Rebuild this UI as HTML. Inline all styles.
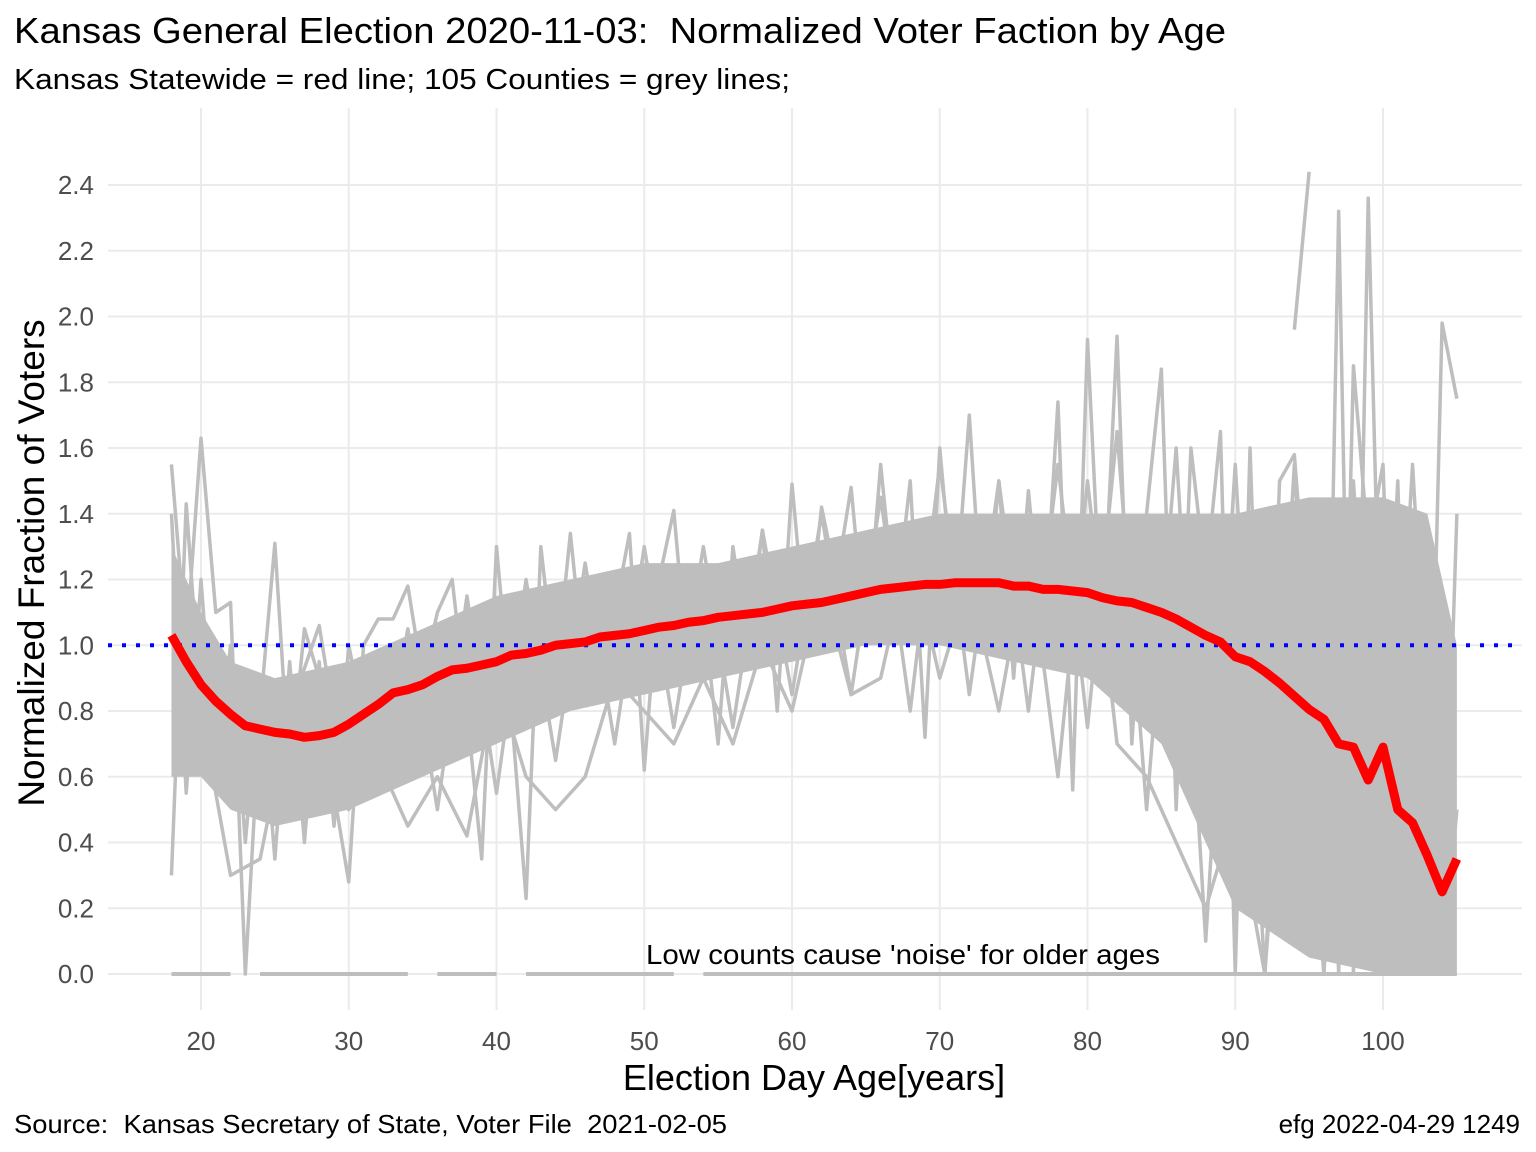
<!DOCTYPE html>
<html><head><meta charset="utf-8"><style>
body{margin:0;background:#fff;}
svg{display:block;font-family:"Liberation Sans",Arial,sans-serif;}
text{white-space:pre;}
</style></head><body>
<svg id="chart" width="1536" height="1152" viewBox="0 0 1536 1152">
<text x="14" y="43" font-size="36" textLength="1212" lengthAdjust="spacingAndGlyphs" fill="#000">Kansas General Election 2020-11-03:  Normalized Voter Faction by Age</text>
<text x="14" y="89" font-size="29" textLength="776" lengthAdjust="spacingAndGlyphs" fill="#000">Kansas Statewide = red line; 105 Counties = grey lines;</text>
<g id="grid"></g>
<g id="band"></g>
<g id="marks"></g>
<g id="axes"></g>
<text x="646" y="964" font-size="28" textLength="514" lengthAdjust="spacingAndGlyphs" fill="#000">Low counts cause 'noise' for older ages</text>
<text x="814" y="1090" font-size="36" text-anchor="middle" fill="#000">Election Day Age[years]</text>
<text transform="translate(44,563) rotate(-90)" font-size="37" text-anchor="middle" fill="#000">Normalized Fraction of Voters</text>
<text x="14" y="1133" font-size="26" textLength="713" lengthAdjust="spacingAndGlyphs" fill="#000">Source:  Kansas Secretary of State, Voter File  2021-02-05</text>
<text x="1520" y="1133" font-size="26" text-anchor="end" fill="#000">efg 2022-04-29 1249</text>
</svg>
<script>
const xTicks=[20,30,40,50,60,70,80,90,100];
const yTicks=[0.0,0.2,0.4,0.6,0.8,1.0,1.2,1.4,1.6,1.8,2.0,2.2,2.4];
const ages=[18,19,20,21,22,23,24,25,26,27,28,29,30,31,32,33,34,35,36,37,38,39,40,41,42,43,44,45,46,47,48,49,50,51,52,53,54,55,56,57,58,59,60,61,62,63,64,65,66,67,68,69,70,71,72,73,74,75,76,77,78,79,80,81,82,83,84,85,86,87,88,89,90,91,92,93,94,95,96,97,98,99,100,101,102,103,104,105];
const statewide=[1.03,0.95,0.88,0.83,0.79,0.755,0.745,0.735,0.73,0.72,0.725,0.735,0.76,0.79,0.82,0.855,0.865,0.88,0.905,0.925,0.93,0.94,0.95,0.97,0.975,0.985,1.0,1.005,1.01,1.025,1.03,1.035,1.045,1.055,1.06,1.07,1.075,1.085,1.09,1.095,1.1,1.11,1.12,1.125,1.13,1.14,1.15,1.16,1.17,1.175,1.18,1.185,1.185,1.19,1.19,1.19,1.19,1.18,1.18,1.17,1.17,1.165,1.16,1.145,1.135,1.13,1.115,1.1,1.08,1.055,1.03,1.01,0.965,0.95,0.92,0.885,0.845,0.805,0.775,0.7,0.69,0.59,0.69,0.5,0.46,0.36,0.25,0.35];
const bandAges=[18,20,22,25,30,35,40,45,50,55,60,65,70,75,80,85,88,90,95,100,103,105];
const bandLow=[0.6,0.6,0.5,0.45,0.5,0.6,0.7,0.8,0.85,0.9,0.95,1.0,1.0,0.95,0.9,0.7,0.4,0.2,0.05,0.0,0.0,0.0];
const bandHigh=[1.3,1.1,0.95,0.9,0.95,1.05,1.15,1.2,1.25,1.25,1.3,1.35,1.4,1.4,1.4,1.4,1.4,1.4,1.45,1.45,1.4,1.0];
const outlierA=[[18,1.55],[19,1.0],[20,1.63],[21,1.1],[22,1.13],[23,0.0],[24,0.8],[25,1.31],[26,0.6],[27,1.05],[28,0.9],[29,0.55],[30,0.28],[31,1.0],[32,1.08],[33,1.08],[34,1.18],[35,0.9],[36,1.1],[37,1.2],[38,0.8],[39,0.35],[40,1.3],[41,0.8],[42,0.23],[43,1.3],[44,0.9],[45,1.34],[46,0.9],[47,1.2],[48,1.1],[49,1.34],[50,0.62],[51,1.2],[52,1.41],[53,0.9],[54,1.1],[55,0.7],[56,1.3],[57,1.0],[58,1.35],[59,0.8],[60,1.49],[61,1.0],[62,1.42],[63,1.2],[64,1.48],[65,1.0],[66,1.55],[67,1.1],[68,1.5],[69,0.72],[70,1.6],[71,1.1],[72,1.7],[73,1.0],[74,1.5],[75,0.9],[76,1.47],[77,1.0],[78,1.74],[79,0.56],[80,1.93],[81,1.0],[82,1.94],[83,0.7],[84,1.4],[85,1.84],[86,0.5],[87,1.6],[88,1.2],[89,1.65],[90,0.0],[91,1.6],[92,0.3],[93,1.5],[94,1.58],[95,1.0],[96,1.4],[97,0.0],[98,1.85],[99,1.3],[100,1.55],[101,0.3],[102,1.4],[103,0.2],[104,1.98],[105,1.75]];
const outlierB=[[18,0.3],[19,1.43],[20,0.8],[22,0.3],[24,0.35],[26,0.8],[28,1.06],[30,0.5],[32,0.65],[34,0.45],[36,0.6],[38,0.42],[40,0.9],[42,0.6],[44,0.5],[46,0.6],[48,0.9],[50,0.8],[52,0.7],[54,0.9],[56,0.7],[58,1.0],[60,0.8],[62,1.2],[64,0.85],[66,0.9],[68,1.3],[70,0.9],[72,1.2],[74,0.8],[76,1.3],[78,0.6],[80,1.5],[82,0.7],[84,0.6],[86,0.4],[88,0.2],[90,0.5],[92,0.0],[94,1.2],[96,0.0],[97,2.32],[98,0.0],[99,2.36],[100,0.6],[101,1.5],[102,0.0],[103,1.3],[104,0.0],[105,1.4]];
const outlierC=[[94,1.96],[95,2.44]];
const outlierD=[[18,1.4],[19,0.55],[20,1.2],[21,0.6],[22,1.0],[23,0.4],[24,0.9],[25,0.35],[26,0.95],[27,0.4],[28,0.95],[29,0.45],[30,1.0],[32,0.55],[34,1.05],[36,0.5],[38,1.15],[40,0.55],[42,1.2],[44,0.65],[46,1.25],[48,0.7],[50,1.3],[52,0.75],[54,1.3],[56,0.75],[58,1.35],[60,0.85],[62,1.4],[64,0.85],[66,1.45],[68,0.8],[70,1.55],[72,0.85],[74,1.5],[76,0.8],[78,1.55],[80,0.75],[82,1.65],[84,0.5],[86,1.6],[88,0.1],[90,1.55],[92,0.0],[94,1.55],[96,0.0],[98,1.5],[100,0.0],[102,1.55],[104,0.0],[105,0.5]];
const zeroSegs=[[18,22],[24,34],[36,40],[42,52],[54,105]];
const NS="http://www.w3.org/2000/svg";
const X0=108,X1=1522,Y0=108,Y1=1010;
function sx(a){return 201+(a-20)*(1383-201)/80;}
function sy(v){return 974-v*(974-185)/2.4;}
function mk(tag,attrs,parent){const e=document.createElementNS(NS,tag);for(const k in attrs)e.setAttribute(k,attrs[k]);document.getElementById(parent).appendChild(e);return e;}
for(let a=20;a<=100;a+=10){
 const g=mk('line',{x1:sx(a),x2:sx(a),y1:Y0,y2:Y1,stroke:'#ebebeb','stroke-width':2},'grid');
 
 }
for(let i=0;i<=12;i++){const v=i*0.2;
 const g=mk('line',{x1:X0,x2:X1,y1:sy(v),y2:sy(v),stroke:'#ebebeb','stroke-width':2},'grid');
 
 }
xTicks.forEach(t=>{const e=mk('text',{x:sx(t),y:1050,'font-size':26,'text-anchor':'middle',fill:'#4d4d4d'},'axes');e.textContent=t;
 
 });
yTicks.forEach(t=>{const e=mk('text',{x:94,y:sy(t)+9,'font-size':26,'text-anchor':'end',fill:'#4d4d4d'},'axes');e.textContent=t.toFixed(1);
 
 });
let pts=bandAges.map((a,i)=>sx(a)+','+sy(bandHigh[i]));
pts=pts.concat(bandAges.map((a,i)=>sx(a)+','+sy(bandLow[i])).reverse());
const poly=mk('polygon',{points:pts.join(' '),fill:'#bebebe'},'band');


[outlierA,outlierB,outlierC,outlierD].forEach(s=>{
 const p=mk('polyline',{points:s.map(d=>sx(d[0])+','+sy(d[1])).join(' '),fill:'none',stroke:'#bebebe','stroke-width':3.5,'stroke-linejoin':'round'},'band');
 
 });
zeroSegs.forEach(s=>{const l=mk('line',{x1:sx(s[0]),x2:sx(s[1]),y1:sy(0),y2:sy(0),stroke:'#bebebe','stroke-width':4},'band');
 
 });
const ref=mk('line',{x1:X0,x2:X1,y1:sy(1),y2:sy(1),stroke:'#0000ff','stroke-width':4,'stroke-dasharray':'4 10'},'marks');


const red=mk('polyline',{points:ages.map((a,i)=>sx(a)+','+sy(statewide[i])).join(' '),fill:'none',stroke:'#ff0000','stroke-width':9,'stroke-linejoin':'round'},'marks');


</script>
</body></html>
